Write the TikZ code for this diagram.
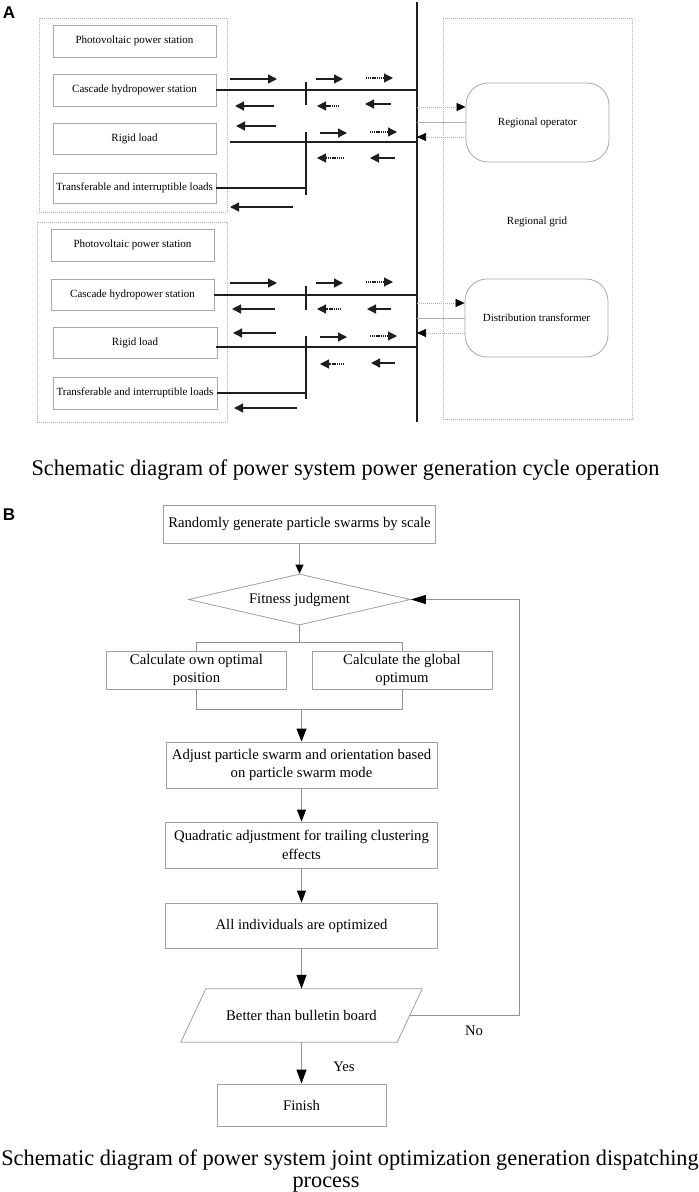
\documentclass[tikz,border=0pt]{standalone}
\usepackage{fontspec}
\setmainfont{Liberation Serif}
\newfontfamily\lblfont{Liberation Sans}
\usetikzlibrary{arrows.meta,shapes.geometric}
\definecolor{boxgray}{HTML}{A8A8A8}
\definecolor{dotgray}{HTML}{B0B0B0}
\definecolor{fgray}{HTML}{A0A0A0}
\definecolor{cgray}{HTML}{909090}
\definecolor{busblack}{HTML}{1E1E1E}
\begin{document}
\begin{tikzpicture}[x=1pt,y=-1pt,
  abox/.style={draw=boxgray, line width=0.8pt, minimum width=163pt, minimum height=32pt, inner sep=0pt, font=\fontsize{11}{13}\selectfont},
  outerbox/.style={draw=dotgray, line width=0.8pt, dash pattern=on 1pt off 1pt, inner sep=0pt},
  rbox/.style={draw=boxgray, line width=0.8pt, rounded corners=22pt, minimum width=143pt, minimum height=79pt, inner sep=0pt, font=\fontsize{11}{13}\selectfont},
  busline/.style={draw=busblack, line width=1.3pt},
  arr/.style={draw=busblack, line width=1.3pt, -{Triangle[length=9pt,width=9pt]}},
  darr/.style={draw=busblack, line width=1.1pt, dash pattern=on 1.2pt off 0.9pt, -{Triangle[length=9pt,width=9pt]}},
  lnk/.style={draw=dotgray, line width=0.7pt},
  dlnk/.style={draw=dotgray, line width=0.7pt, dash pattern=on 1pt off 1pt, -{Triangle[length=9pt,width=8pt,color=black]}},
  fbox/.style={draw=fgray, line width=0.8pt, inner sep=0pt, align=center, font=\fontsize{14.7}{18.5}\selectfont},
  conn/.style={draw=cgray, line width=0.8pt},
  carr/.style={conn, -{Triangle[length=12pt,width=9pt,color=black]}},
  captext/.style={inner sep=0pt, anchor=base, font=\fontsize{22.3}{26}\selectfont},
  lbl/.style={inner sep=0pt, font=\lblfont\bfseries\fontsize{17}{20}\selectfont},
  plain/.style={inner sep=0pt, font=\fontsize{14.7}{18.5}\selectfont}
]
\useasboundingbox (0,0) rectangle (699,1192);

% ---------------- Panel A ----------------
\node[lbl] (labA) at (9,12.5) {A};

\node[outerbox, minimum width=188pt, minimum height=194pt] (g1) at (133,115) {};
\node[outerbox, minimum width=190pt, minimum height=200pt] (g2) at (132,322) {};
\node[outerbox, minimum width=189pt, minimum height=401pt] (grid) at (537.5,218.5) {};
\node[inner sep=0pt, font=\fontsize{11}{13}\selectfont] (gridtxt) at (537,222) {Regional grid};

\node[abox] (pv1) at (134.5,41) {Photovoltaic power station};
\node[abox] (cas1) at (134.5,90) {Cascade hydropower station};
\node[abox, minimum height=31pt] (rig1) at (134.5,138.5) {Rigid load};
\node[abox, minimum height=30pt] (tra1) at (134.5,188) {Transferable and interruptible loads};

\node[abox] (pv2) at (132.5,245) {Photovoltaic power station};
\node[abox, minimum height=31pt] (cas2) at (132.5,295) {Cascade hydropower station};
\node[abox, minimum width=164pt, minimum height=31pt] (rig2) at (135,342.5) {Rigid load};
\node[abox, minimum width=164pt] (tra2) at (135,393) {Transferable and interruptible loads};

\node[rbox] (op) at (537.5,122.5) {Regional operator};
\node[rbox, minimum height=78pt] (tr) at (536.5,318) {Distribution transformer};

% bus
\coordinate (bt) at (417,2);
\coordinate (bb) at (417,422);
\draw[busline] (bt) -- (bb);

% branch verticals
\coordinate (v1t) at (306,82);  \coordinate (v1b) at (306,105);
\coordinate (v2t) at (306,132); \coordinate (v2b) at (306,195);
\coordinate (v3t) at (306,286); \coordinate (v3b) at (306,310);
\coordinate (v4t) at (306,336); \coordinate (v4b) at (306,399);
\draw[busline] (v1t) -- (v1b);
\draw[busline] (v2t) -- (v2b);
\draw[busline] (v3t) -- (v3b);
\draw[busline] (v4t) -- (v4b);

% feeders
\coordinate (r1s) at (230,142);
\coordinate (r2s) at (216,347);
\draw[busline] (cas1.east) -- (cas1.east -| bt);
\draw[busline] (r1s) -- (r1s -| bt);
\draw[busline] (tra1.east) -- (tra1.east -| v2t);
\draw[busline] (cas2.east) -- (cas2.east -| bt);
\draw[busline] (r2s) -- (r2s -| bt);
\draw[busline] (tra2.east) -- (tra2.east -| v4t);

% flow arrows, upper group
\draw[arr] (230,79) -- (277,79);
\draw[arr] (316,79) -- (343,79);
\draw[darr] (366,78) -- (393,78);
\draw[arr] (274,106) -- (235,106);
\draw[darr] (339,106) -- (317,106);
\draw[arr] (391,104) -- (365,104);
\draw[arr] (276,126) -- (236,126);
\draw[arr] (320,133) -- (347,133);
\draw[darr] (370,132) -- (397,132);
\draw[darr] (344,158) -- (317,158);
\draw[arr] (395,158) -- (370,158);
\draw[arr] (293,207) -- (230,207);

% flow arrows, lower group
\draw[arr] (230,283) -- (277,283);
\draw[arr] (316,283) -- (343,283);
\draw[darr] (366,282) -- (393,282);
\draw[arr] (275,309) -- (232,309);
\draw[darr] (341,309) -- (317,309);
\draw[arr] (391,309) -- (367,309);
\draw[arr] (276,333) -- (233,333);
\draw[arr] (320,337) -- (347,337);
\draw[darr] (370,336) -- (397,336);
\draw[darr] (344,364) -- (320,364);
\draw[arr] (395,363) -- (371,363);
\draw[arr] (297,408) -- (234,408);

% bus to regional grid links
\draw[dlnk] ([yshift=15.5pt]op.west -| bt) -- ([yshift=15.5pt]op.west);
\draw[lnk] (op.west -| bt) -- (op.west);
\draw[dlnk] ([yshift=-14.5pt]op.west) -- ([yshift=-14.5pt]op.west -| bt);
\draw[dlnk] ([yshift=15pt]tr.west -| bt) -- ([yshift=15pt]tr.west);
\draw[lnk] (tr.west -| bt) -- (tr.west);
\draw[dlnk] ([yshift=-15pt]tr.west) -- ([yshift=-15pt]tr.west -| bt);

\node[captext] (capA) at (345.5,475) {Schematic diagram of power system power generation cycle operation};

% ---------------- Panel B ----------------
\node[lbl] (labB) at (9,515) {B};

\node[fbox, minimum width=272pt, minimum height=38pt] (init) at (299.5,524) {Randomly generate particle swarms by scale};
\node[diamond, aspect=4.35, draw=fgray, line width=0.8pt, minimum width=222pt, minimum height=51pt, inner sep=0pt, font=\fontsize{14.7}{18.5}\selectfont] (fit) at (299.5,599.5) {Fitness judgment};
\node[fbox, minimum width=180pt, minimum height=38pt] (own) at (196.5,670) {Calculate own optimal\\position};
\node[fbox, minimum width=180pt, minimum height=38pt] (glob) at (402,670) {Calculate the global\\optimum};
\node[fbox, minimum width=271pt, minimum height=46pt] (adj) at (301.5,765) {Adjust particle swarm and orientation based\\on particle swarm mode};
\node[fbox, minimum width=272pt, minimum height=46pt] (quad) at (301.5,845) {Quadratic adjustment for trailing clustering\\effects};
\node[fbox, minimum width=272pt, minimum height=45pt] (all) at (301.5,925.5) {All individuals are optimized};
\node[plain, minimum width=216pt, minimum height=53pt] (par) at (301.5,1015.5) {Better than bulletin board};
\draw[draw=fgray, line width=0.8pt] ([xshift=12.5pt]par.north west) -- ([xshift=12.5pt]par.north east) -- ([xshift=-12.5pt]par.south east) -- ([xshift=-12.5pt]par.south west) -- cycle;
\node[fbox, minimum width=169pt, minimum height=42pt] (fin) at (301.5,1105) {Finish};

\coordinate (ht) at (0,642);
\coordinate (hb) at (0,709);

\draw[conn, -{Triangle[length=9pt,width=8pt,color=black]}] (init.south) -- (fit.north);
\draw[conn] (fit.south) -- (fit.south |- ht);
\draw[conn] (own.north) -- (own.north |- ht) -- (glob.north |- ht) -- (glob.north);
\draw[conn] (own.south) -- (own.south |- hb) -- (glob.south |- hb) -- (glob.south);
\draw[carr, -{Triangle[length=13pt,width=10pt,color=black]}] (adj.north |- hb) -- (adj.north);
\draw[carr] (adj.south) -- (quad.north);
\draw[carr] (quad.south) -- (all.north);
\draw[carr, -{Triangle[length=14pt,width=10pt,color=black]}] (all.south) -- (par.north);
\draw[carr, -{Triangle[length=14pt,width=10pt,color=black]}] (par.south) -- (fin.north);
\draw[conn, -{Triangle[length=15pt,width=9pt,color=black]}] (par.east) -- ++(110,0) |- (fit.east);

\node[plain] (yes) at (344,1067) {Yes};
\node[plain] (no) at (474,1031) {No};

\node[captext] (capB1) at (350,1165) {Schematic diagram of power system joint optimization generation dispatching};
\node[captext] (capB2) at (326,1187) {process};
\end{tikzpicture}
\end{document}
